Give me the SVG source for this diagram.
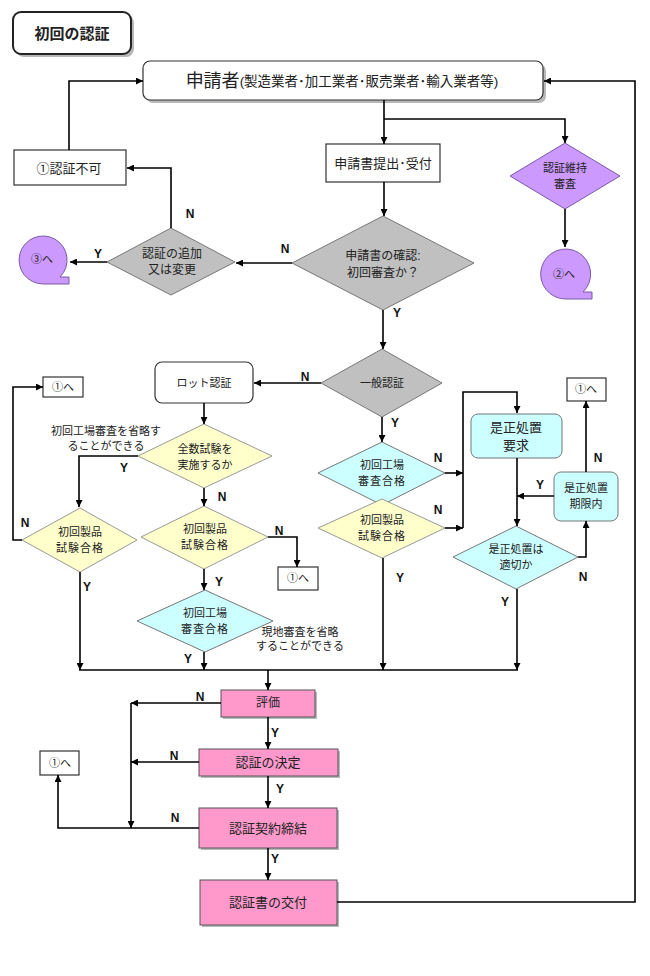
<svg xmlns="http://www.w3.org/2000/svg" width="650" height="976" viewBox="0 0 650 976">
<style>
text{font-family:"Liberation Sans","Noto Sans CJK JP",sans-serif;fill:#222;text-anchor:middle;dominant-baseline:central}
.t{font-size:12px}
.s{font-size:11px}
.yn{font-size:12px;font-weight:bold;fill:#111}
.box{fill:#fff;stroke:#333;stroke-width:1.2}
.gray{fill:#c0c0c0;stroke:#777;stroke-width:1}
.yel{fill:#ffffcc;stroke:#999;stroke-width:1}
.cyan{fill:#ccffff;stroke:#777;stroke-width:1}
.pur{fill:#cc99ff;stroke:#7a5aa8;stroke-width:1}
.pink{fill:#ff99cc;stroke:#555;stroke-width:1}
.sh{fill:#888;opacity:0.6}
.c path{fill:none;stroke:#000;stroke-width:1.6}
.c .a{marker-end:url(#ar)}
</style>
<defs>
<marker id="ar" viewBox="0 0 10 10" refX="10" refY="5" markerWidth="7" markerHeight="7" markerUnits="userSpaceOnUse" orient="auto">
<path d="M0,0 L10,5 L0,10 z" fill="#000"/>
</marker>
</defs>
<rect width="650" height="976" fill="#fff"/>

<g id="title">
<rect x="16" y="15" width="118" height="42" rx="8" class="sh"/>
<rect x="13" y="12" width="118" height="42" rx="8" fill="#fff" stroke="#222" stroke-width="2"/>
<text x="72" y="33" style="font-size:15px;font-weight:bold">初回の認証</text>
</g>

<g id="applicant">
<rect x="146" y="64" width="400" height="39" rx="7" class="sh"/>
<rect x="143" y="61" width="400" height="39" rx="7" class="box"/>
<text x="342" y="81"><tspan style="font-size:18px">申請者</tspan><tspan style="font-size:13.5px">(製造業者･加工業者･販売業者･輸入業者等)</tspan></text>
</g>

<g id="submit">
<rect x="326" y="144" width="114" height="38" class="box"/>
<text x="383" y="163" style="font-size:13px">申請書提出･受付</text>
</g>

<g id="maint">
<path d="M565,143 L620,176 L565,209 L510,176 Z" class="pur"/>
<text x="565" y="168" class="s">認証維持</text>
<text x="565" y="184" class="s">審査</text>
</g>

<g id="to2">
<path d="M566,299 A25,25 0 1 1 583,292 L592,292 L592,299 Z" class="pur"/>
<text x="564" y="274" class="s">②へ</text>
</g>

<g id="check">
<path d="M383,216 L474,263 L383,310 L292,263 Z" class="gray"/>
<text x="383" y="256" class="t">申請書の確認:</text>
<text x="383" y="273" class="t">初回審査か？</text>
</g>

<g id="addchange">
<path d="M171,228 L235,262 L171,295 L107,262 Z" class="gray"/>
<text x="172" y="254" class="t">認証の追加</text>
<text x="172" y="270" class="t">又は変更</text>
</g>

<g id="to3">
<path d="M43,284 A24,24 0 1 1 60,277 L69,277 L69,284 Z" class="pur"/>
<text x="42" y="259" class="s">③へ</text>
</g>

<g id="reject">
<rect x="14" y="150" width="112" height="35" class="box"/>
<text x="69" y="168" style="font-size:13px">①認証不可</text>
</g>

<g id="general">
<path d="M382,349 L442,383 L382,417 L321,383 Z" class="gray"/>
<text x="382" y="383" class="s">一般認証</text>
</g>

<g id="lot">
<rect x="155" y="362" width="98" height="41" rx="7" class="box"/>
<text x="204" y="383" class="s">ロット認証</text>
</g>

<g id="fulltest">
<path d="M204,424 L272,456 L204,488 L138,456 Z" class="yel"/>
<text x="205" y="449" class="s">全数試験を</text>
<text x="205" y="465" class="s">実施するか</text>
</g>

<g id="note1">
<text x="106" y="431" class="s">初回工場審査を省略す</text>
<text x="106" y="446" class="s">ることができる</text>
</g>

<g id="ref1a">
<rect x="43" y="377" width="40" height="20" class="box"/>
<text x="63" y="387" class="s">①へ</text>
</g>

<g id="prodL">
<path d="M80,508 L137,540 L80,572 L22,540 Z" class="yel"/>
<text x="80" y="532" class="s">初回製品</text>
<text x="80" y="548" class="s" letter-spacing="1">試験合格</text>
</g>

<g id="prodM">
<path d="M204,506 L268,537 L204,569 L141,537 Z" class="yel"/>
<text x="205" y="529" class="s">初回製品</text>
<text x="205" y="545" class="s" letter-spacing="1">試験合格</text>
</g>

<g id="ref1b">
<rect x="278" y="567" width="40" height="23" class="box"/>
<text x="298" y="578" class="s">①へ</text>
</g>

<g id="factM">
<path d="M205,590 L273,621 L205,652 L137,621 Z" class="cyan"/>
<text x="205" y="613" class="s">初回工場</text>
<text x="205" y="629" class="s" letter-spacing="1">審査合格</text>
</g>

<g id="note2">
<text x="300" y="632" class="s">現地審査を省略</text>
<text x="300" y="646" class="s">することができる</text>
</g>

<g id="factR">
<path d="M382,442 L445,473 L382,505 L318,473 Z" class="cyan"/>
<text x="382" y="465" class="s">初回工場</text>
<text x="382" y="481" class="s" letter-spacing="1">審査合格</text>
</g>

<g id="prodR">
<path d="M382,499 L445,528 L382,558 L318,528 Z" class="yel"/>
<text x="382" y="520" class="s">初回製品</text>
<text x="382" y="536" class="s" letter-spacing="1">試験合格</text>
</g>

<g id="corrreq">
<rect x="471" y="414" width="91" height="44" rx="7" class="cyan"/>
<text x="516" y="427" style="font-size:13px">是正処置</text>
<text x="516" y="445" style="font-size:13px">要求</text>
</g>

<g id="corrlimit">
<rect x="554" y="472" width="64" height="49" rx="7" class="cyan"/>
<text x="586" y="488" class="s">是正処置</text>
<text x="586" y="504" class="s">期限内</text>
</g>

<g id="ref1c">
<rect x="567" y="378" width="39" height="23" class="box"/>
<text x="586" y="389" class="s">①へ</text>
</g>

<g id="corrok">
<path d="M516,526 L578,557 L516,589 L453,557 Z" class="cyan"/>
<text x="516" y="549" class="s">是正処置は</text>
<text x="516" y="565" class="s">適切か</text>
</g>

<g id="eval">
<rect x="223" y="692" width="94" height="27" class="sh"/>
<rect x="221" y="690" width="94" height="27" class="pink"/>
<text x="268" y="703" class="t">評価</text>
</g>

<g id="decide">
<rect x="201" y="751" width="139" height="27" class="sh"/>
<rect x="199" y="749" width="139" height="27" class="pink"/>
<text x="268" y="762" style="font-size:13px">認証の決定</text>
</g>

<g id="contract">
<rect x="201" y="810" width="138" height="40" class="sh"/>
<rect x="199" y="808" width="138" height="40" class="pink"/>
<text x="268" y="828" style="font-size:13px">認証契約締結</text>
</g>

<g id="ref1d">
<rect x="40" y="751" width="39" height="24" class="box"/>
<text x="60" y="763" class="s">①へ</text>
</g>

<g id="issue">
<rect x="202" y="882" width="137" height="45" class="sh"/>
<rect x="200" y="880" width="137" height="45" class="pink"/>
<text x="268" y="902" style="font-size:13px">認証書の交付</text>
</g>

<g id="connectors" class="c">
<path class="a" d="M69,150 V81 H143"/>
<path class="a" d="M337,902 H635 V81 H544"/>
<path class="a" d="M384,100 V144"/>
<path class="a" d="M384,119 H565 V143"/>
<path class="a" d="M384,182 V216"/>
<path class="a" d="M565,209 V247"/>
<path class="a" d="M292,263 H236"/>
<path class="a" d="M171,228 V168 H127"/>
<path class="a" d="M107,262 H70"/>
<path class="a" d="M383,310 V349"/>
<path class="a" d="M321,383 H254"/>
<path class="a" d="M204,403 V424"/>
<path class="a" d="M138,456 H79 V507"/>
<path class="a" d="M204,488 V506"/>
<path class="a" d="M22,540 H13 V387 H43"/>
<path class="a" d="M268,537 H297 V567"/>
<path class="a" d="M80,572 V670"/>
<path class="a" d="M204,569 V590"/>
<path class="a" d="M204,652 V670"/>
<path class="a" d="M382,417 V442"/>
<path class="a" d="M445,473 H463"/>
<path class="a" d="M445,528 H463"/>
<path class="a" d="M463,528 V392 H517 V413"/>
<path class="a" d="M517,458 V526"/>
<path class="a" d="M554,496 H517"/>
<path class="a" d="M586,472 V401"/>
<path class="a" d="M578,557 H586 V521"/>
<path class="a" d="M383,558 V670"/>
<path class="a" d="M517,589 V670"/>
<path d="M79,670 H518"/>
<path class="a" d="M268,670 V690"/>
<path class="a" d="M221,703 H131"/>
<path class="a" d="M268,717 V749"/>
<path class="a" d="M199,762 H131"/>
<path class="a" d="M131,703 V828"/>
<path class="a" d="M199,828 H58 V775"/>
<path class="a" d="M268,776 V808"/>
<path class="a" d="M268,848 V880"/>
</g>

<g id="labels">
<text x="190" y="214" class="yn">N</text>
<text x="285" y="249" class="yn">N</text>
<text x="98" y="254" class="yn">Y</text>
<text x="397" y="313" class="yn">Y</text>
<text x="305" y="377" class="yn">N</text>
<text x="395" y="423" class="yn">Y</text>
<text x="124" y="468" class="yn">Y</text>
<text x="222" y="497" class="yn">N</text>
<text x="25" y="523" class="yn">N</text>
<text x="279" y="531" class="yn">N</text>
<text x="87" y="587" class="yn">Y</text>
<text x="219" y="582" class="yn">Y</text>
<text x="188" y="659" class="yn">Y</text>
<text x="438" y="458" class="yn">N</text>
<text x="438" y="510" class="yn">N</text>
<text x="400" y="578" class="yn">Y</text>
<text x="540" y="485" class="yn">Y</text>
<text x="598" y="458" class="yn">N</text>
<text x="583" y="577" class="yn">N</text>
<text x="505" y="602" class="yn">Y</text>
<text x="200" y="697" class="yn">N</text>
<text x="275" y="733" class="yn">Y</text>
<text x="174" y="756" class="yn">N</text>
<text x="280" y="789" class="yn">Y</text>
<text x="175" y="818" class="yn">N</text>
<text x="275" y="859" class="yn">Y</text>
</g>
</svg>
